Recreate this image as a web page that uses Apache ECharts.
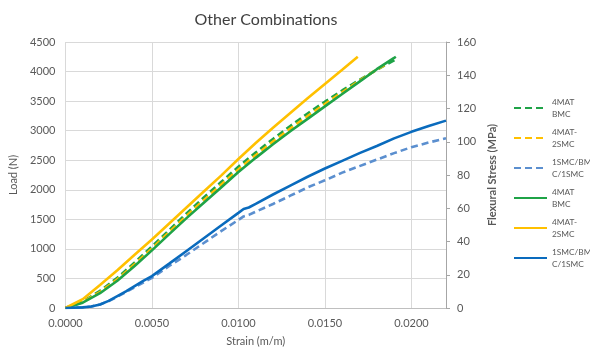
<!DOCTYPE html>
<html>
<head>
<meta charset="utf-8">
<script src="https://cdn.jsdelivr.net/npm/echarts@6/dist/echarts.min.js"></script>
<style>html,body{margin:0;padding:0;background:#fff}#c{width:590px;height:359px}</style>
</head>
<body>
<div id="c"></div>
<script>
// ---- data (strain m/m, load N) ----
const xTicks = [0, 0.005, 0.010, 0.015, 0.020];
const seriesNames = ['4MAT BMC', '4MAT-2SMC', '1SMC/BMC/1SMC', '4MAT BMC', '4MAT-2SMC', '1SMC/BMC/1SMC'];
const legendLabels = ['4MAT\nBMC', '4MAT-\n2SMC', '1SMC/BM\nC/1SMC', '4MAT\nBMC ', '4MAT-\n2SMC ', '1SMC/BM\nC/1SMC '];

const bmcDashStrain = [0,0.001,0.002,0.003,0.004,0.005,0.006,0.007,0.008,0.009,0.010,0.011,0.012,0.013,0.014,0.015,0.016,0.017,0.018,0.019,0.0191];
const bmcDashLoad   = [0,110,290,510,770,1040,1320,1600,1870,2130,2390,2630,2860,3080,3290,3490,3680,3860,4030,4190,4210];

const smc2DashStrain = [0,0.001,0.002,0.003,0.004,0.005,0.006,0.007,0.008,0.009,0.010,0.011,0.012,0.013,0.014,0.015,0.016,0.017,0.018,0.0185];
const smc2DashLoad   = [0,100,270,485,740,1005,1285,1560,1825,2085,2345,2585,2815,3035,3245,3450,3650,3845,4035,4120];

const sbsDashStrain = [0,0.001,0.0015,0.002,0.0025,0.003,0.0035,0.004,0.0045,0.005,0.006,0.007,0.008,0.009,0.010,0.0103,0.0106,0.011,0.012,0.013,0.014,0.015,0.016,0.017,0.018,0.019,0.020,0.021,0.022];
const sbsDashLoad   = [0,10,25,60,115,190,270,350,430,510,710,900,1100,1300,1490,1550,1575,1630,1760,1900,2040,2160,2290,2400,2510,2620,2720,2800,2870];

const bmcSolidStrain = [0,0.001,0.002,0.003,0.004,0.005,0.006,0.007,0.008,0.009,0.010,0.011,0.012,0.013,0.014,0.015,0.016,0.017,0.018,0.019,0.0191];
const bmcSolidLoad   = [0,90,250,460,710,975,1250,1520,1780,2040,2300,2540,2770,2990,3200,3410,3620,3830,4040,4230,4250];

const smc2SolidStrain = [0,0.001,0.002,0.003,0.004,0.005,0.006,0.007,0.008,0.009,0.010,0.011,0.012,0.013,0.014,0.015,0.016,0.0169];
const smc2SolidLoad   = [0,150,390,640,900,1160,1430,1700,1970,2240,2520,2790,3050,3300,3550,3790,4030,4250];

const sbsSolidStrain = [0,0.001,0.0015,0.002,0.0025,0.003,0.0035,0.004,0.0045,0.005,0.006,0.007,0.008,0.009,0.010,0.0103,0.0106,0.011,0.012,0.013,0.014,0.015,0.016,0.017,0.018,0.019,0.020,0.021,0.022];
const sbsSolidLoad   = [0,10,25,60,120,200,280,370,460,540,750,965,1180,1395,1610,1675,1700,1760,1920,2070,2220,2360,2490,2620,2740,2870,2980,3080,3170];

const colors = ['#1fa347', '#ffc000', '#5b8fcf', '#1fa347', '#ffc000', '#0a6bbd'];
const dashed = [true, true, true, false, false, false];

const strainSets = [bmcDashStrain, smc2DashStrain, sbsDashStrain, bmcSolidStrain, smc2SolidStrain, sbsSolidStrain];
const loadSets = [bmcDashLoad, smc2DashLoad, sbsDashLoad, bmcSolidLoad, smc2SolidLoad, sbsSolidLoad];

const zip = (a, b) => a.map((v, i) => [v, b[i]]);

const series = strainSets.map((s, i) => ({
  name: legendLabels[i],
  type: 'line',
  data: zip(s, loadSets[i]),
  symbol: 'none',
  smooth: false,
  lineStyle: { color: colors[i], width: 2.6, type: dashed[i] ? [7, 4] : 'solid' },
  itemStyle: { color: colors[i] },
  z: 2 + i
}));

const chart = echarts.init(document.getElementById('c'));
chart.setOption({
  animation: false,
  title: {
    text: 'Other Combinations',
    left: 261, top: 7, textAlign: 'center',
    textStyle: { fontFamily: 'Lato', fontSize: 16, fontWeight: 'normal', color: '#404040' }
  },
  legend: {
    orient: 'vertical',
    left: 513, top: 90, padding: 0,
    itemWidth: 33, itemHeight: 14,
    itemGap: -6,
    itemStyle: { opacity: 0 },
    textStyle: { fontFamily: 'Lato', fontSize: 8.3, color: '#595959', lineHeight: 12, padding: [12, 0, 0, 0] },
    data: legendLabels
  },
  grid: { left: 53, right: 144, top: 42, bottom: 51, containLabel: false },
  xAxis: {
    type: 'value', min: 0, max: 0.022, interval: 0.005,
    name: 'Strain (m/m)', nameLocation: 'middle', nameGap: 28,
    nameTextStyle: { fontFamily: 'Lato', fontSize: 11, color: '#595959' },
    axisLine: { show: true, lineStyle: { color: '#bfbfbf' } },
    axisTick: { show: false },
    axisLabel: {
      fontFamily: 'Lato', fontSize: 11, color: '#595959', margin: 10,
      showMaxLabel: false,
      formatter: v => (xTicks.some(t => Math.abs(t - v) < 1e-9) ? v.toFixed(4) : '')
    },
    splitLine: { show: true, lineStyle: { color: '#d9d9d9' } }
  },
  yAxis: [{
    type: 'value', min: 0, max: 4500, interval: 500,
    name: 'Load (N)', nameLocation: 'middle', nameGap: 36, nameRotate: 90,
    nameTextStyle: { fontFamily: 'Lato', fontSize: 11, color: '#595959' },
    axisLine: { show: false },
    axisTick: { show: false },
    axisLabel: { fontFamily: 'Lato', fontSize: 11, color: '#595959', margin: 10, formatter: v => String(v) },
    splitLine: { show: true, lineStyle: { color: '#d9d9d9' } }
  }, {
    type: 'value', min: 0, max: 160, interval: 20, position: 'right',
    name: 'Flexural Stress (MPa)', nameLocation: 'middle', nameGap: 38, nameRotate: 90,
    nameTextStyle: { fontFamily: 'Lato', fontSize: 11, color: '#595959', fontWeight: 'bold' },
    axisLine: { show: true, lineStyle: { color: '#a6a6a6' } },
    axisTick: { show: true, length: 4, lineStyle: { color: '#a6a6a6' } },
    axisLabel: { fontFamily: 'Lato', fontSize: 11, color: '#595959', margin: 11, formatter: v => String(v) },
    splitLine: { show: false }
  }],
  series: series
});
</script>
</body>
</html>
